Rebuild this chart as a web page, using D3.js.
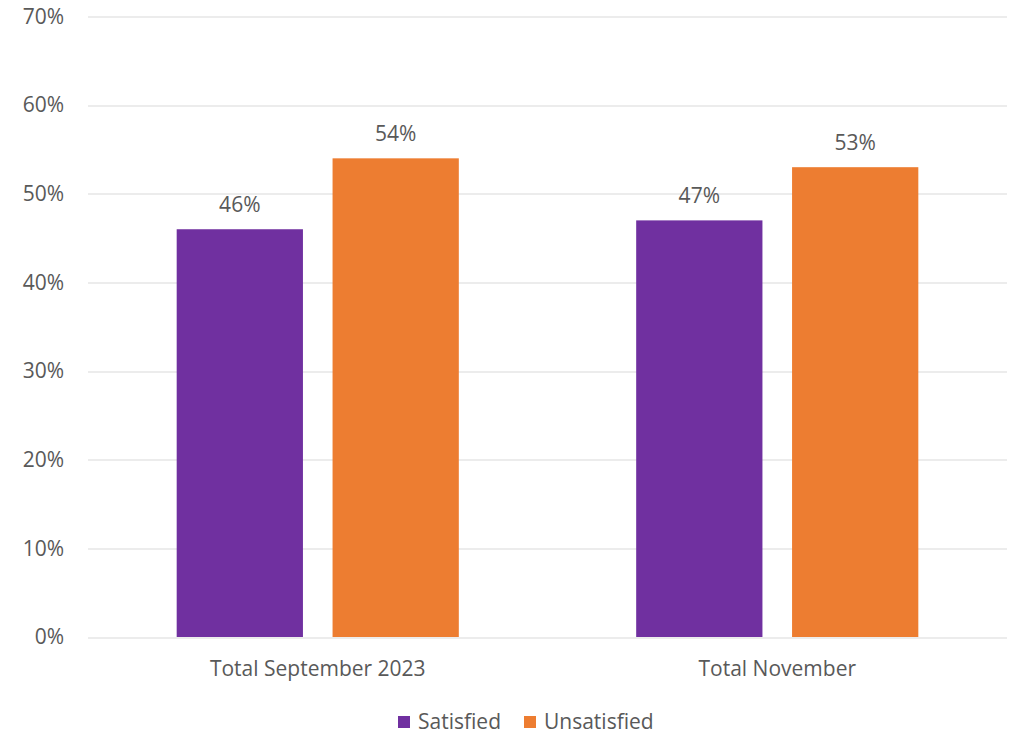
<!DOCTYPE html>
<html>
<head>
<meta charset="utf-8">
<script src="https://cdn.jsdelivr.net/npm/d3@7"></script>
<style>
  body { margin: 0; background: #fff; }
  text { font-family: "Open Sans", "Liberation Sans", sans-serif; fill: #595959; }
</style>
</head>
<body>
<svg id="chart" width="1015" height="734"></svg>
<script>
// chart data
const categories = ["Total September 2023", "Total November"];
const seriesNames = ["Satisfied", "Unsatisfied"];
const satisfied = [0.46, 0.47];
const unsatisfied = [0.54, 0.53];
const yTicks = [0, 0.1, 0.2, 0.3, 0.4, 0.5, 0.6, 0.7];
const colors = ["#7030A0", "#ED7D31"];

const fs = "21px";
const svg = d3.select("#chart");
const margin = { top: 16.5, right: 8, bottom: 97, left: 88 };
const width = 1015 - margin.left - margin.right;
const height = 734 - margin.top - margin.bottom;

const g = svg.append("g").attr("transform", "translate(" + margin.left + "," + margin.top + ")");

const x = d3.scaleBand().domain(categories).range([0, width]).paddingInner(0.386).paddingOuter(0.193);
const x1 = d3.scaleBand().domain(seriesNames).range([0, x.bandwidth()]).paddingInner(0.19);
const y = d3.scaleLinear().domain([0, 0.7]).range([height, 0]);

// gridlines
g.append("g")
  .selectAll("line")
  .data(yTicks)
  .enter().append("line")
    .attr("x1", 0).attr("x2", width)
    .attr("y1", d => Math.round(y(d)) + 0.5)
    .attr("y2", d => Math.round(y(d)) + 0.5)
    .attr("stroke", "#D9D9D9").attr("stroke-width", 1);

// y labels
const yAxis = d3.axisLeft(y).tickValues(yTicks).tickFormat(d3.format(".0%")).tickSize(0).tickPadding(24);
g.append("g").call(yAxis)
  .call(a => a.select(".domain").remove())
  .selectAll("text")
    .style("font-size", fs).attr("fill", "#595959");

// x labels
g.append("g").attr("transform", "translate(0," + height + ")")
  .call(d3.axisBottom(x).tickSize(0).tickPadding(24))
  .call(a => a.select(".domain").remove())
  .selectAll("text")
    .style("font-size", fs).attr("fill", "#595959");

const rows = categories.map((c, i) => ({ cat: c, vals: [satisfied[i], unsatisfied[i]] }));

const groups = g.selectAll(".grp")
  .data(rows)
  .enter().append("g")
    .attr("class", "grp")
    .attr("transform", d => "translate(" + x(d.cat) + ",0)");

const bars = groups.selectAll("g.bar")
  .data(d => d.vals.map((v, j) => ({ name: seriesNames[j], value: v, j: j })))
  .enter().append("g").attr("class", "bar");

bars.append("rect")
  .attr("x", d => x1(d.name))
  .attr("width", x1.bandwidth())
  .attr("y", d => y(d.value))
  .attr("height", d => height - y(d.value))
  .attr("fill", d => colors[d.j]);

bars.append("text")
  .attr("x", d => x1(d.name) + x1.bandwidth() / 2)
  .attr("y", d => y(d.value) - 17)
  .attr("text-anchor", "middle")
  .style("font-size", fs)
  .text(d => d3.format(".0%")(d.value));

// legend
const legend = svg.append("g").attr("transform", "translate(398,722)");
const itemX = [0, 126];
seriesNames.forEach((s, i) => {
  const it = legend.append("g").attr("transform", "translate(" + itemX[i] + ",0)");
  it.append("rect").attr("x", 0).attr("y", -6).attr("width", 12).attr("height", 12).attr("fill", colors[i]);
  it.append("text").attr("x", 20).attr("y", 0).attr("dy", "0.35em")
    .style("font-size", fs).text(s);
});
</script>
</body>
</html>
